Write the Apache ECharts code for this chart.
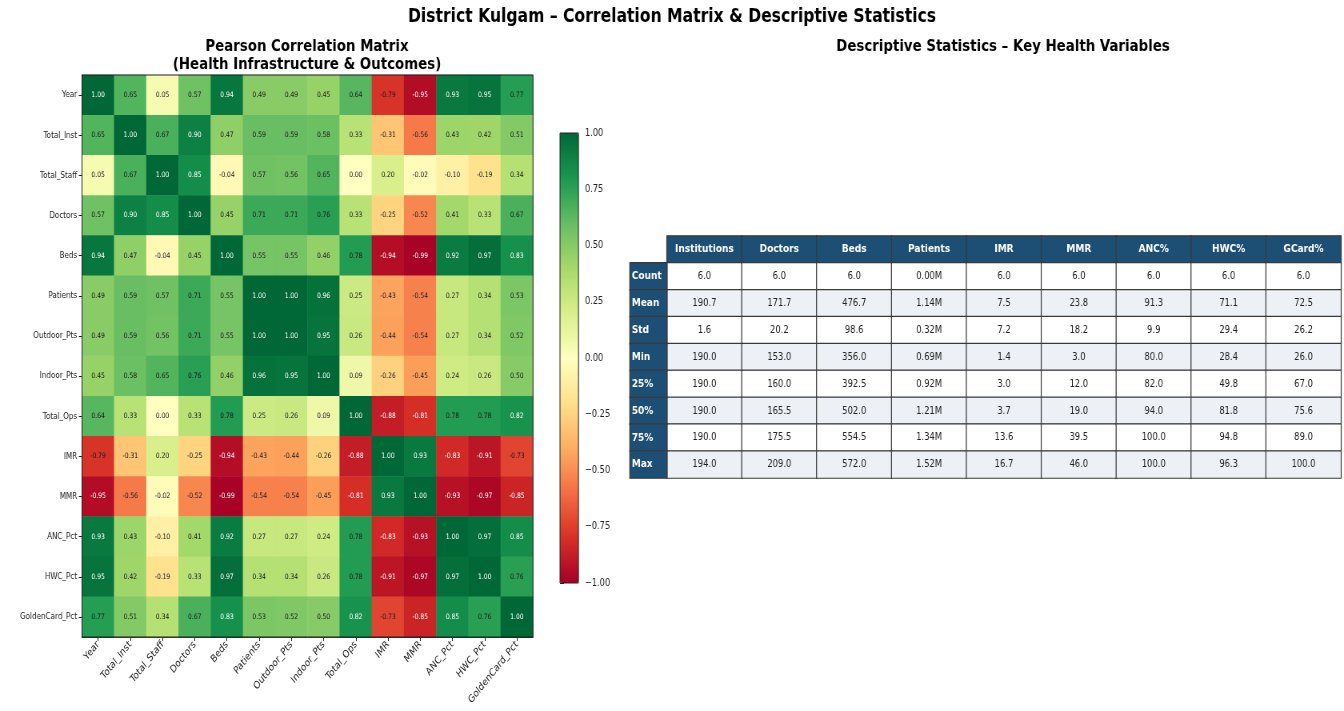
<!DOCTYPE html>
<html><head><meta charset="utf-8">
<script src="https://cdn.jsdelivr.net/npm/echarts@6/dist/echarts.min.js"></script>
<style>
html,body{margin:0;padding:0;background:#fff;overflow:hidden;width:1344px;height:711px}
#c{width:1680px;height:711px;transform:scaleX(0.8);transform-origin:0 0}
</style></head>
<body><div id="c"></div>
<script>
// ---------- data ----------
const variables = ['Year','Total_Inst','Total_Staff','Doctors','Beds','Patients','Outdoor_Pts','Indoor_Pts','Total_Ops','IMR','MMR','ANC_Pct','HWC_Pct','GoldenCard_Pct'];
const rowYear        = [1.00, 0.65, 0.05, 0.57, 0.94, 0.49, 0.49, 0.45, 0.64,-0.79,-0.95, 0.93, 0.95, 0.77];
const rowTotalInst   = [0.65, 1.00, 0.67, 0.90, 0.47, 0.59, 0.59, 0.58, 0.33,-0.31,-0.56, 0.43, 0.42, 0.51];
const rowTotalStaff  = [0.05, 0.67, 1.00, 0.85,-0.04, 0.57, 0.56, 0.65,-0.00, 0.20,-0.02,-0.10,-0.19, 0.34];
const rowDoctors     = [0.57, 0.90, 0.85, 1.00, 0.45, 0.71, 0.71, 0.76, 0.33,-0.25,-0.52, 0.41, 0.33, 0.67];
const rowBeds        = [0.94, 0.47,-0.04, 0.45, 1.00, 0.55, 0.55, 0.46, 0.78,-0.94,-0.99, 0.92, 0.97, 0.83];
const rowPatients    = [0.49, 0.59, 0.57, 0.71, 0.55, 1.00, 1.00, 0.96, 0.25,-0.43,-0.54, 0.27, 0.34, 0.53];
const rowOutdoorPts  = [0.49, 0.59, 0.56, 0.71, 0.55, 1.00, 1.00, 0.95, 0.26,-0.44,-0.54, 0.27, 0.34, 0.52];
const rowIndoorPts   = [0.45, 0.58, 0.65, 0.76, 0.46, 0.96, 0.95, 1.00, 0.09,-0.26,-0.45, 0.24, 0.26, 0.50];
const rowTotalOps    = [0.64, 0.33,-0.00, 0.33, 0.78, 0.25, 0.26, 0.09, 1.00,-0.88,-0.81, 0.78, 0.78, 0.82];
const rowIMR         = [-0.79,-0.31, 0.20,-0.25,-0.94,-0.43,-0.44,-0.26,-0.88, 1.00, 0.93,-0.83,-0.91,-0.73];
const rowMMR         = [-0.95,-0.56,-0.02,-0.52,-0.99,-0.54,-0.54,-0.45,-0.81, 0.93, 1.00,-0.93,-0.97,-0.85];
const rowANC         = [0.93, 0.43,-0.10, 0.41, 0.92, 0.27, 0.27, 0.24, 0.78,-0.83,-0.93, 1.00, 0.97, 0.85];
const rowHWC         = [0.95, 0.42,-0.19, 0.33, 0.97, 0.34, 0.34, 0.26, 0.78,-0.91,-0.97, 0.97, 1.00, 0.76];
const rowGoldenCard  = [0.77, 0.51, 0.34, 0.67, 0.83, 0.53, 0.52, 0.50, 0.82,-0.73,-0.85, 0.85, 0.76, 1.00];
const corrRows = [rowYear,rowTotalInst,rowTotalStaff,rowDoctors,rowBeds,rowPatients,rowOutdoorPts,rowIndoorPts,rowTotalOps,rowIMR,rowMMR,rowANC,rowHWC,rowGoldenCard];

const colorbarTicks = [-1.00,-0.75,-0.50,-0.25,0.00,0.25,0.50,0.75,1.00];

const statColumns = ['Institutions','Doctors','Beds','Patients','IMR','MMR','ANC%','HWC%','GCard%'];
const statRows    = ['Count','Mean','Std','Min','25%','50%','75%','Max'];
const statInstitutions = [6.0,190.7,1.6,190.0,190.0,190.0,190.0,194.0];
const statDoctors      = [6.0,171.7,20.2,153.0,160.0,165.5,175.5,209.0];
const statBeds         = [6.0,476.7,98.6,356.0,392.5,502.0,554.5,572.0];
const statPatientsM    = [0.00,1.14,0.32,0.69,0.92,1.21,1.34,1.52];
const statIMR          = [6.0,7.5,7.2,1.4,3.0,3.7,13.6,16.7];
const statMMR          = [6.0,23.8,18.2,3.0,12.0,19.0,39.5,46.0];
const statANC          = [6.0,91.3,9.9,80.0,82.0,94.0,100.0,100.0];
const statHWC          = [6.0,71.1,29.4,28.4,49.8,81.8,94.8,96.3];
const statGCard        = [6.0,72.5,26.2,26.0,67.0,75.6,89.0,100.0];
const statValues = [statInstitutions,statDoctors,statBeds,statPatientsM,statIMR,statMMR,statANC,statHWC,statGCard];

// ---------- styling helpers ----------
const S = 0.8;                 // horizontal squeeze of the reference
const X = v => v / S;
const FONT = 'DejaVu Sans';
const RDYLGN = ['#a50026','#d73027','#f46d43','#fdae61','#fee08b','#ffffbf','#d9ef8b','#a6d96a','#66bd63','#1a9850','#006837'];
const HDR = '#1d4e74', ALT = '#edf1f6', BORDER = '#3a3a3a';

// correlation cells (annotation turns white on the strongest correlations)
const corrData = [];
corrRows.forEach((row,i)=>row.forEach((v,j)=>{
  corrData.push({value:[j,i,v], label:{color: Math.abs(v) >= 0.8 ? '#fff' : '#1a1a1a'}});
}));

// table cells
const tableData = [];
statColumns.forEach((c,j)=>{
  tableData.push({value:[j,0,0], txt:c, itemStyle:{color:HDR},
    label:{color:'#fff', fontWeight:'bold', fontSize:11.3}});
  statValues[j].forEach((v,i)=>{
    const txt = j===3 ? v.toFixed(2)+'M' : v.toFixed(1);
    tableData.push({value:[j,i+1,0], txt, itemStyle:{color: i%2===1 ? ALT : '#ffffff'}});
  });
});
const rowHeadData = statRows.map((r,i)=>({value:[0,i,0], txt:r}));

const option = {
  backgroundColor:'#ffffff',
  animation:false,
  textStyle:{fontFamily:FONT},
  graphic:[
    {type:'text', x:X(672), y:17, style:{text:'District Kulgam – Correlation Matrix & Descriptive Statistics',
      fontFamily:FONT, fontWeight:'bold', fontSize:19.5, fill:'#000', align:'center', verticalAlign:'middle'}},
    {type:'text', x:X(307), y:56, style:{text:'Pearson Correlation Matrix\n(Health Infrastructure & Outcomes)',
      fontFamily:FONT, fontWeight:'bold', fontSize:16.7, lineHeight:18, fill:'#000', align:'center', verticalAlign:'middle'}},
    {type:'text', x:X(1003), y:47, style:{text:'Descriptive Statistics – Key Health Variables',
      fontFamily:FONT, fontWeight:'bold', fontSize:16.7, fill:'#000', align:'center', verticalAlign:'middle'}}
  ],
  grid:[
    {left:X(82), top:75, width:X(451), height:562, show:true, borderColor:'#222', borderWidth:1, backgroundColor:'transparent', z:5},
    {left:X(667), top:236, width:X(674), height:242},
    {left:X(630), top:236+242/9, width:X(37), height:242*8/9},
    {left:X(560), top:133, width:X(18.5), height:450, show:true, borderColor:'#222', borderWidth:1, backgroundColor:'transparent', z:10}
  ],
  xAxis:[
    {type:'category', gridIndex:0, data:variables, splitArea:{show:false},
      axisLine:{show:true, lineStyle:{color:'#222'}},
      axisTick:{show:true, alignWithLabel:true, length:4, lineStyle:{color:'#222'}},
      axisLabel:{interval:0, rotate:45, fontSize:10.5, color:'#222', margin:6, fontFamily:FONT}},
    {type:'category', gridIndex:1, data:statColumns, show:false},
    {type:'category', gridIndex:2, data:['row'], show:false},
    {type:'value', gridIndex:3, show:false, min:0, max:1}
  ],
  yAxis:[
    {type:'category', gridIndex:0, data:variables, inverse:true, splitArea:{show:false},
      axisLine:{show:true, lineStyle:{color:'#222'}},
      axisTick:{show:true, alignWithLabel:true, length:4, lineStyle:{color:'#222'}},
      axisLabel:{interval:0, fontSize:9, color:'#222', margin:6, fontFamily:FONT}},
    {type:'category', gridIndex:1, data:['header'].concat(statRows), inverse:true, show:false},
    {type:'category', gridIndex:2, data:statRows, inverse:true, show:false},
    {type:'value', gridIndex:3, position:'right', min:colorbarTicks[0], max:colorbarTicks[colorbarTicks.length-1], interval:0.25,
      axisLine:{show:false}, splitLine:{show:false},
      axisTick:{show:true, length:5, lineStyle:{color:'#222'}},
      axisLabel:{fontSize:10.3, color:'#222', margin:8, fontFamily:FONT,
        formatter:v=>(v<0?'\u2212':'')+Math.abs(v).toFixed(2)}}
  ],
  visualMap:{type:'continuous', min:-1, max:1, seriesIndex:0, calculable:false, orient:'vertical',
    left:X(560), top:133, itemWidth:X(18.5), itemHeight:450, padding:0, text:null, showLabel:false,
    inRange:{color:RDYLGN}, hoverLink:false},
  series:[
    {type:'heatmap', xAxisIndex:0, yAxisIndex:0, data:corrData, itemStyle:{borderWidth:0},
      label:{show:true, fontSize:7.5, fontFamily:FONT, formatter:p=>p.value[2].toFixed(2)},
      emphasis:{disabled:true}},
    {type:'heatmap', xAxisIndex:1, yAxisIndex:1, data:tableData,
      itemStyle:{borderColor:BORDER, borderWidth:1.2},
      label:{show:true, fontSize:10.5, color:'#222', fontFamily:FONT, formatter:p=>p.data.txt},
      emphasis:{disabled:true}},
    {type:'heatmap', xAxisIndex:2, yAxisIndex:2, data:rowHeadData,
      itemStyle:{color:HDR, borderColor:BORDER, borderWidth:1.2},
      label:{show:true, position:'insideLeft', distance:3, fontSize:11.3, fontWeight:'bold', color:'#fff', fontFamily:FONT, formatter:p=>p.data.txt},
      emphasis:{disabled:true}}
  ]
};
const chart = echarts.init(document.getElementById('c'));
chart.setOption(option);
</script></body></html>
